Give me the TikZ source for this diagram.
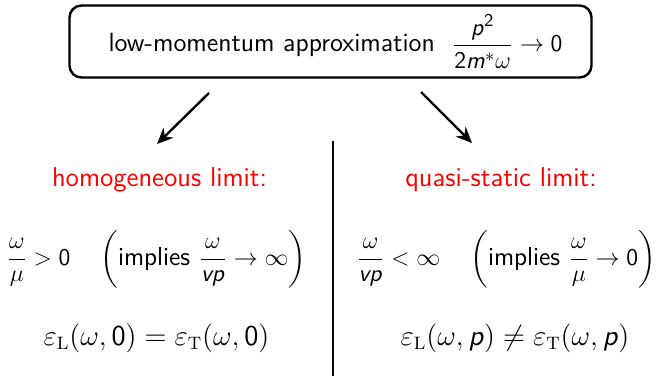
\documentclass[tikz,border=0pt]{standalone}
\usepackage{amsmath}
\usepackage{tikz}
\usetikzlibrary{arrows.meta}
\DeclareSymbolFont{sfit}{OT1}{cmss}{m}{sl}
\DeclareSymbolFont{sfup}{OT1}{cmss}{m}{n}
\DeclareMathSymbol{p}{\mathalpha}{sfit}{`p}
\DeclareMathSymbol{m}{\mathalpha}{sfit}{`m}
\DeclareMathSymbol{v}{\mathalpha}{sfit}{`v}
\DeclareMathSymbol{0}{\mathalpha}{sfup}{`0}
\DeclareMathSymbol{2}{\mathalpha}{sfup}{`2}

\begin{document}
\begin{tikzpicture}[
  x=0.5pt,y=-0.5pt,
  every node/.style={font=\sffamily\fontsize{13}{15}\selectfont,inner sep=0pt},
  topbox/.style={rectangle,rounded corners=6pt,draw,line width=1.2pt,
    minimum width=261pt,minimum height=36pt,
    font=\sffamily\fontsize{13.2}{15}\selectfont},
  limit/.style={text=red,anchor=base,font=\sffamily\fontsize{13.6}{16}\selectfont},
  formula/.style={anchor=base},
  result/.style={anchor=base,font=\sffamily\fontsize{13.4}{16}\selectfont},
  arrow/.style={-{Stealth[length=8pt,width=7pt]},line width=1.2pt},
  sep/.style={line width=1pt}
]
\useasboundingbox (0,0) rectangle (659,376);
\node[topbox] (approx) at (330.5,41.5)
  {\hspace{5pt}low-momentum approximation\ \ $\displaystyle\frac{p^2}{2m^*\omega}\to 0$};
\coordinate (la) at (209,93);
\coordinate (lb) at (157,144);
\coordinate (ra) at (421,92);
\coordinate (rb) at (472,143);
\draw[arrow] (la) -- (lb);
\draw[arrow] (ra) -- (rb);
\coordinate (septop) at (333,141);
\coordinate (sepbot) at (333,376);
\draw[sep] (septop) -- (sepbot);
\node[limit] (hom) at (159.5,186) {homogeneous limit:};
\node[limit] (qs) at (501,186) {quasi-static limit:};
\node[formula] (homcond) at (156.5,265)
  {$\displaystyle\frac{\omega}{\mu}>0\quad\left(\text{implies }\frac{\omega}{vp}\to\infty\right)$};
\node[formula] (qscond) at (506,265)
  {$\displaystyle\frac{\omega}{vp}<\infty\quad\left(\text{implies }\frac{\omega}{\mu}\to 0\right)$};
\node[result] (homeq) at (156.5,345)
  {$\varepsilon_{\mathrm{L}}(\omega,0)=\varepsilon_{\mathrm{T}}(\omega,0)$};
\node[result] (qseq) at (515,345)
  {$\varepsilon_{\mathrm{L}}(\omega,p)\neq\varepsilon_{\mathrm{T}}(\omega,p)$};
\end{tikzpicture}
\end{document}
